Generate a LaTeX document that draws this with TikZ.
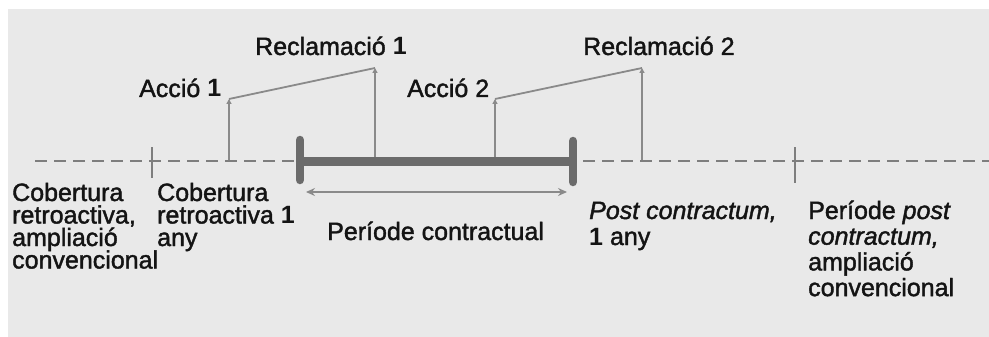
\documentclass[tikz,border=0pt]{standalone}
\usepackage{fontspec}
\setmainfont{Liberation Sans}[UprightFeatures={FakeBold=1.6},ItalicFeatures={FakeBold=1.6}]
\usetikzlibrary{arrows.meta}
\definecolor{bg}{HTML}{E9E9E9}
\definecolor{dashc}{HTML}{7E7E7E}
\definecolor{barc}{HTML}{6B6B6B}
\definecolor{thinc}{HTML}{8A8A8A}
\definecolor{txt}{HTML}{141414}
\newcommand{\lline}[1]{\hbox{#1}}
\newcommand{\mlines}[2]{\vtop{\lineskiplimit=-100pt\baselineskip=#1pt #2}}
\tikzset{
  dashline/.style={draw=dashc, line width=2.8pt, dash pattern=on 12pt off 7pt},
  tickline/.style={draw=dashc, line width=2.4pt},
  barline/.style={draw=barc, line width=9pt},
  capline/.style={draw=barc, line width=8.5pt, line cap=round},
  spanarrow/.style={draw=thinc, line width=2.4pt, {Stealth[length=9pt,width=8pt,inset=3pt]}-{Stealth[length=9pt,width=8pt,inset=3pt]}},
  uparrow/.style={draw=thinc, line width=1.8pt, -{Triangle[length=5pt,width=5pt]}},
  linkline/.style={draw=thinc, line width=1.8pt},
  lbl/.style={inner sep=0pt, text=txt, font=\fontsize{25}{25}\selectfont, anchor=base west},
}
\begin{document}
\begin{tikzpicture}[x=1pt,y=-1pt]
\useasboundingbox (0,0) rectangle (989,337);
\fill[white] (0,0) rectangle (989,337);
\fill[bg] (8,9) rectangle (989,337);

% timeline coordinates
\coordinate (L0) at (35,161);
\coordinate (S) at (300,161);
\coordinate (E) at (573,161);
\coordinate (E2) at (583,161);
\coordinate (Lend) at (989,161);
\coordinate (T1a) at (152,147);
\coordinate (T1b) at (152,178);
\coordinate (T2a) at (795,147);
\coordinate (T2b) at (795,183);
\coordinate (Sa) at (300,140);
\coordinate (Sb) at (300,180);
\coordinate (Ea) at (573,141);
\coordinate (Eb) at (573,182);
\coordinate (D1) at (306,192);
\coordinate (D2) at (567,192);

\draw[dashline] (L0) -- (S);
\draw[dashline] (E2) -- (Lend);
\draw[tickline] (T1a) -- (T1b);
\draw[tickline] (T2a) -- (T2b);
\draw[barline] (S) -- (E);
\draw[capline] (Sa) -- (Sb);
\draw[capline] (Ea) -- (Eb);
\draw[spanarrow] (D1) -- (D2);

% action / claim arrows
\coordinate (A1b) at (229,160);
\coordinate (A1t) at (229,99);
\coordinate (R1b) at (375,157);
\coordinate (R1t) at (375,68);
\coordinate (A2b) at (495,157);
\coordinate (A2t) at (495,99);
\coordinate (R2b) at (642,160);
\coordinate (R2t) at (642,68);

\draw[uparrow] (A1b) -- (A1t);
\draw[linkline] (A1t) -- (R1t);
\draw[uparrow] (R1b) -- (R1t);
\draw[uparrow] (A2b) -- (A2t);
\draw[linkline] (A2t) -- (R2t);
\draw[uparrow] (R2b) -- (R2t);

% labels
\node[lbl] (rec1) at (255,55) {Reclamació \textbf{1}};
\node[lbl] (acc1) at (139,97) {Acció \textbf{1}};
\node[lbl] (acc2) at (407,97) {Acció 2};
\node[lbl] (rec2) at (583,55) {Reclamació 2};

\node[lbl] (cov1) at (12,201) {\mlines{22.5}{\lline{Cobertura}\lline{retroactiva,}\lline{ampliació}\lline{convencional}}};
\node[lbl] (cov2) at (157,201) {\mlines{22.5}{\lline{Cobertura}\lline{retroactiva \textbf{1}}\lline{any}}};
\node[lbl] (per) at (327,240) {Període contractual};
\node[lbl] (post1) at (589,219) {\mlines{26}{\lline{\textit{Post contractum,}}\lline{\textbf{1} any}}};
\node[lbl] (post2) at (808,219) {\mlines{25.7}{\lline{Període \textit{post}}\lline{\textit{contractum,}}\lline{ampliació}\lline{convencional}}};
\end{tikzpicture}
\end{document}
